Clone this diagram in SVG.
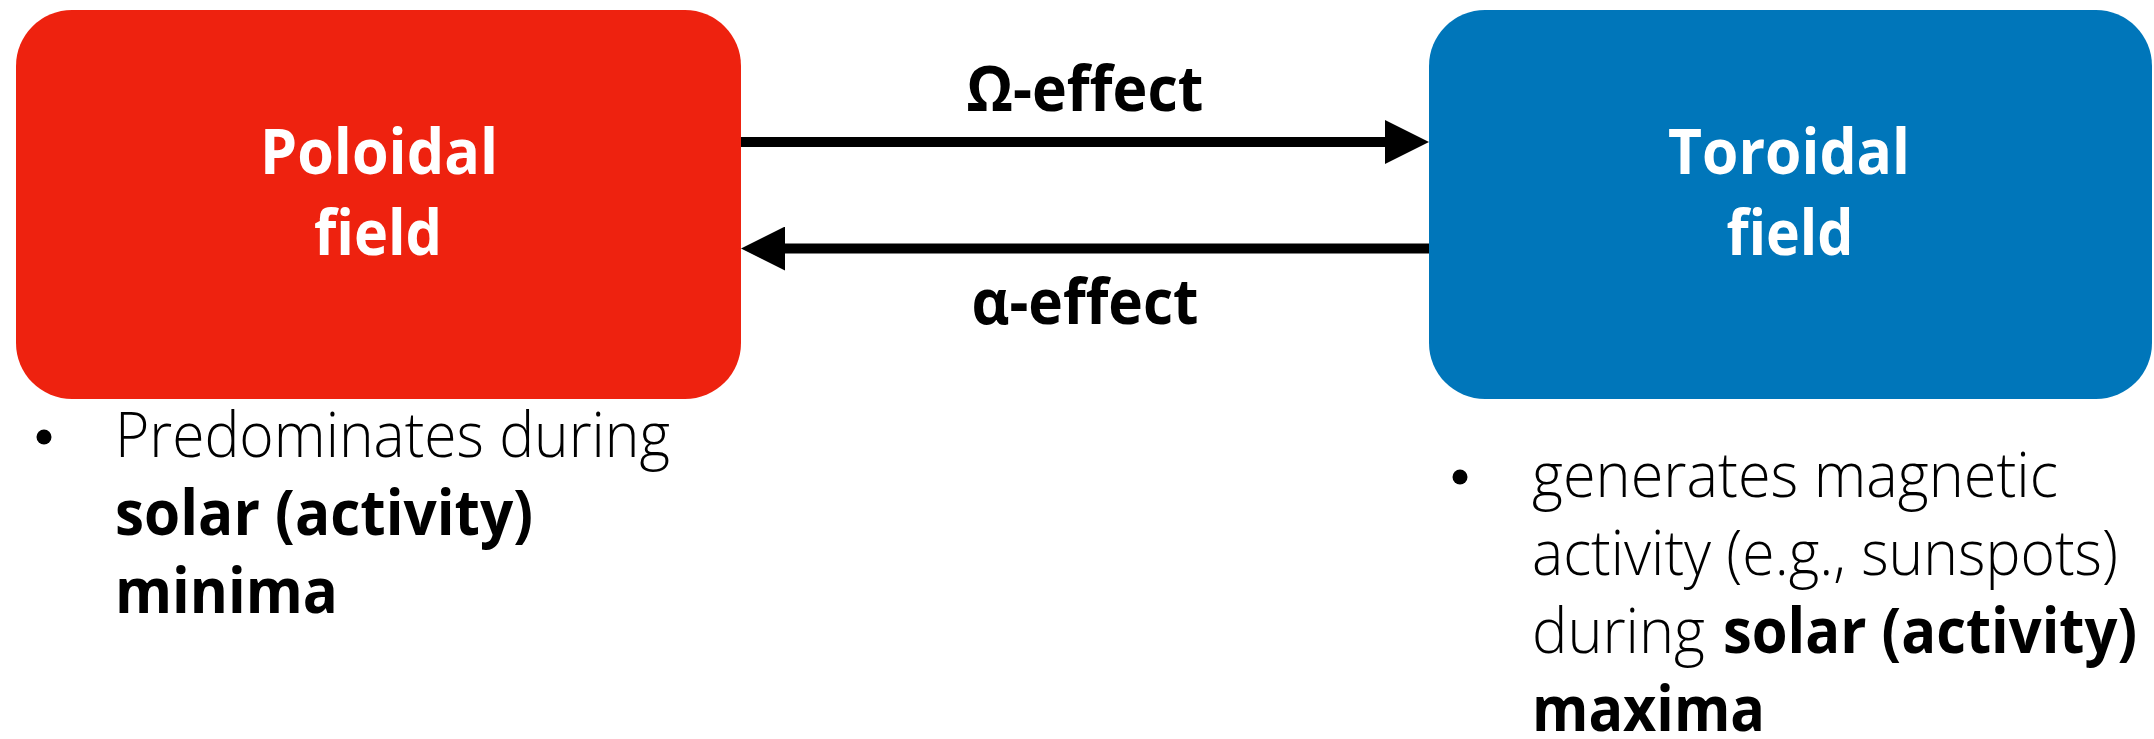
<svg xmlns="http://www.w3.org/2000/svg" width="2154" height="739" viewBox="0 0 2154 739">
  <style>
    .box-label { font-family: "Open Sans", "Liberation Sans", sans-serif; font-weight: 700; font-size: 62px; fill: #ffffff; text-anchor: middle; }
    .edge-label { font-family: "Open Sans", "Liberation Sans", sans-serif; font-weight: 700; font-size: 63px; fill: #000000; text-anchor: middle; }
    .body { font-family: "Open Sans", "Liberation Sans", sans-serif; font-weight: 300; font-size: 62px; fill: #000000; }
    .bold { font-family: "Open Sans", "Liberation Sans", sans-serif; font-weight: 700; font-size: 62px; fill: #000000; }
    .conn { stroke: #000000; stroke-width: 10; fill: none; }
  </style>
  <defs>
    <marker id="arrow" markerUnits="userSpaceOnUse" markerWidth="44" markerHeight="44" refX="0" refY="22" orient="auto">
      <path d="M0,0 L44,22 L0,44 z" fill="#000000"/>
    </marker>
  </defs>
  <rect width="2154" height="739" fill="#ffffff"/>

  <g id="poloidal">
    <rect x="16" y="10" width="725" height="389" rx="56" ry="56" fill="#EE220F"/>
    <text class="box-label" x="379" y="174" textLength="238" lengthAdjust="spacingAndGlyphs">Poloidal</text>
    <text class="box-label" x="378" y="255" textLength="128" lengthAdjust="spacingAndGlyphs">field</text>
  </g>

  <g id="toroidal">
    <rect x="1429" y="10" width="723" height="389" rx="56" ry="56" fill="#0076BA"/>
    <text class="box-label" x="1789" y="174" textLength="242" lengthAdjust="spacingAndGlyphs">Toroidal</text>
    <text class="box-label" x="1790" y="255" textLength="127" lengthAdjust="spacingAndGlyphs">field</text>
  </g>

  <g id="connectors">
    <line class="conn" x1="741" y1="142" x2="1385" y2="142" marker-end="url(#arrow)"/>
    <line class="conn" x1="1429" y1="248.5" x2="785" y2="248.5" marker-end="url(#arrow)"/>
    <text class="edge-label" x="1085" y="111" textLength="237" lengthAdjust="spacingAndGlyphs">Ω-effect</text>
    <text class="edge-label" x="1085" y="324" textLength="227" lengthAdjust="spacingAndGlyphs">α-effect</text>
  </g>

  <g id="poloidal-note">
    <circle cx="44" cy="437" r="7.5" fill="#000000"/>
    <text class="body" x="115" y="457" textLength="555" lengthAdjust="spacingAndGlyphs">Predominates during</text>
    <text class="bold" x="115" y="535" textLength="418" lengthAdjust="spacingAndGlyphs">solar (activity)</text>
    <text class="bold" x="115" y="613" textLength="223" lengthAdjust="spacingAndGlyphs">minima</text>
  </g>

  <g id="toroidal-note">
    <circle cx="1460" cy="477" r="7.5" fill="#000000"/>
    <text class="body" x="1532" y="497" textLength="526" lengthAdjust="spacingAndGlyphs">generates magnetic</text>
    <text class="body" x="1532" y="575" textLength="586" lengthAdjust="spacingAndGlyphs">activity (e.g., sunspots)</text>
    <text class="body" x="1532" y="653" textLength="173" lengthAdjust="spacingAndGlyphs">during</text>
    <text class="bold" x="1723" y="653" textLength="414" lengthAdjust="spacingAndGlyphs">solar (activity)</text>
    <text class="bold" x="1532" y="731" textLength="233" lengthAdjust="spacingAndGlyphs">maxima</text>
  </g>
</svg>
